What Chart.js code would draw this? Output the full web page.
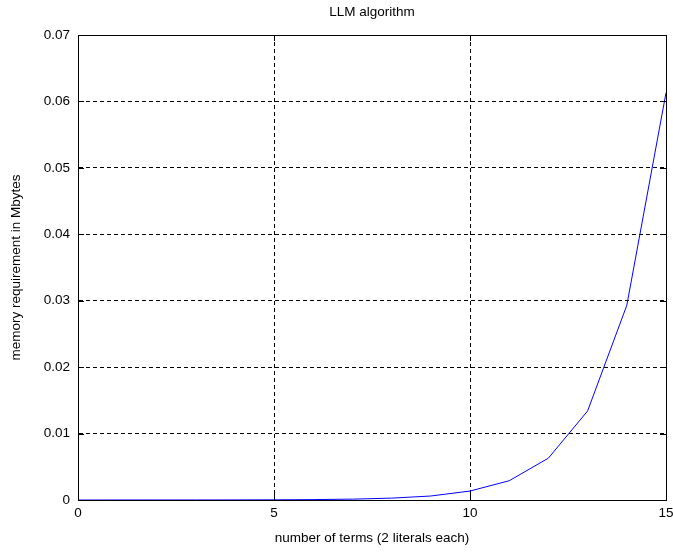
<!DOCTYPE html>
<html>
<head>
<meta charset="utf-8">
<script src="https://cdn.jsdelivr.net/npm/chart.js@4.4.0/dist/chart.umd.min.js"></script>
<style>
  html, body { margin: 0; padding: 0; background: #fff; }
  #wrap { width: 673px; height: 552px; }
</style>
</head>
<body>
<div id="wrap"><canvas id="myChart" width="673" height="552"></canvas></div>
<script>
// number of terms and memory (Mbytes)
const terms = [0, 1, 2, 3, 4, 5, 6, 7, 8, 9, 10, 11, 12, 13, 14, 15];
const memory = [0, 0.0000013, 0.000003, 0.000006, 0.000013, 0.000028, 0.00006, 0.00013,
    0.00028, 0.0006, 0.00135, 0.0029, 0.0063, 0.0134, 0.0293, 0.0613];
const xTicks = [0, 5, 10, 15];
const yTicks = [0, 0.01, 0.02, 0.03, 0.04, 0.05, 0.06, 0.07];

const font = { family: "'Liberation Sans', Arial, sans-serif", size: 13.5 };

// solid box and inward tick marks like matlab
const boxPlugin = {
    id: 'box',
    afterDraw(chart) {
        const ctx = chart.ctx;
        const a = chart.chartArea;
        const xs = chart.scales.x, ys = chart.scales.y;
        ctx.save();
        ctx.strokeStyle = '#000';
        ctx.lineWidth = 1;
        ctx.setLineDash([]);
        ctx.strokeRect(Math.round(a.left) + 0.5, Math.round(a.top) + 0.5,
            Math.round(a.right - a.left), Math.round(a.bottom - a.top));
        ctx.beginPath();
        xTicks.forEach(v => {
            const px = Math.round(xs.getPixelForValue(v)) + 0.5;
            ctx.moveTo(px, a.bottom); ctx.lineTo(px, a.bottom - 6);
            ctx.moveTo(px, a.top); ctx.lineTo(px, a.top + 6);
        });
        yTicks.forEach(v => {
            const py = Math.round(ys.getPixelForValue(v)) + 0.5;
            ctx.moveTo(a.left, py); ctx.lineTo(a.left + 6, py);
            ctx.moveTo(a.right, py); ctx.lineTo(a.right - 6, py);
        });
        ctx.stroke();
        ctx.restore();
    }
};

const data = {
    datasets: [{
        data: terms.map((t, i) => ({ x: t, y: memory[i] })),
        borderColor: 'rgb(0, 0, 255)',
        borderWidth: 1,
        pointRadius: 0,
        tension: 0,
        fill: false
    }]
};

const config = {
    type: 'line',
    data: data,
    options: {
        responsive: false,
        animation: false,
        layout: { padding: { top: 0, right: 7, left: 0, bottom: 0 } },
        plugins: {
            legend: { display: false },
            tooltip: { enabled: false },
            title: {
                display: true,
                text: 'LLM algorithm',
                color: '#000',
                font: { ...font, weight: 'normal' },
                fullSize: false,
                padding: { top: 4, bottom: 14.8 }
            }
        },
        scales: {
            x: {
                type: 'linear',
                min: 0, max: 15,
                afterBuildTicks: s => { s.ticks = xTicks.map(v => ({ value: v })); },
                afterFit: s => { s.height = 52; s.paddingLeft = 0; s.paddingRight = 0; },
                ticks: { color: '#000', font: font, padding: 5, maxRotation: 0 },
                grid: { color: '#000', lineWidth: 1, drawTicks: false },
                border: { display: true, color: '#000', dash: [4, 3] },
                title: {
                    display: true,
                    text: 'number of terms (2 literals each)',
                    color: '#000',
                    font: font,
                    padding: { top: 0, bottom: 6 }
                }
            },
            y: {
                min: 0, max: 0.07,
                afterBuildTicks: s => { s.ticks = yTicks.map(v => ({ value: v })); },
                afterFit: s => { s.width = 78; s.paddingTop = 0; s.paddingBottom = 0; },
                ticks: {
                    color: '#000', font: font, padding: 8,
                    callback: v => String(+v.toFixed(2))
                },
                grid: { color: '#000', lineWidth: 1, drawTicks: false },
                border: { display: true, color: '#000', dash: [4, 3] },
                title: {
                    display: true,
                    text: 'memory requirement in Mbytes',
                    color: '#000',
                    font: font,
                    padding: { top: 8, bottom: 0 }
                }
            }
        }
    },
    plugins: [boxPlugin]
};

const myChart = new Chart(document.getElementById('myChart'), config);
</script>
</body>
</html>
